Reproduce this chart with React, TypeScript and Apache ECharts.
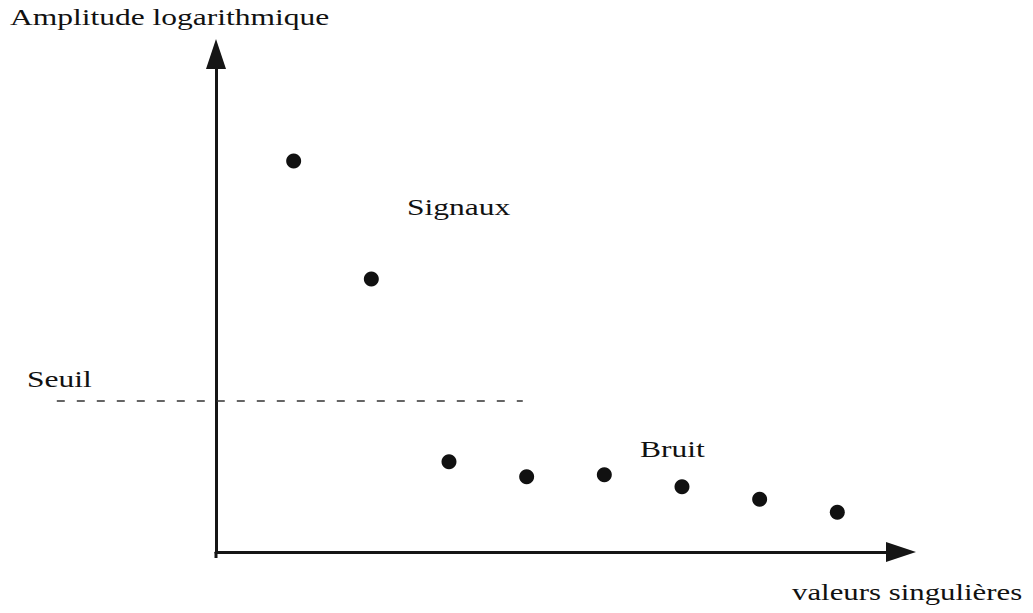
import React, { useEffect, useRef } from "react";
import * as echarts from "echarts";

// singular value rank (x) and log amplitude (y)
const ranks = [1, 2, 3, 4, 5, 6, 7, 8];
const amplitudes = [7.85, 5.48, 1.81, 1.51, 1.55, 1.31, 1.06, 0.8];
const thresholdValue = 3.03;
const thresholdSpan = [-2.05, 3.95];

const yTitle = "Amplitude logarithmique";
const xTitle = "valeurs singulières";
const signalLabel = "Signaux";
const noiseLabel = "Bruit";
const thresholdLabel = "Seuil";

const FONT = "Liberation Serif";

export default function App() {
  const ref = useRef<HTMLDivElement>(null);
  useEffect(() => {
    if (!ref.current) return;
    const chart = echarts.init(ref.current, undefined, { renderer: "svg" });
    const fs = 23;
    const txt = (id: string, x: number, baseline: number, text: string, sx = 1.37) => ({
      type: "text",
      id,
      x,
      y: baseline - 0.34 * fs,
      scaleX: sx,
      style: {
        text,
        fontFamily: FONT,
        fontSize: fs,
        fill: "#111",
        align: "left",
        verticalAlign: "middle",
      },
    });
    const axisCommon = {
      axisLine: {
        show: true,
        lineStyle: { color: "#151515", width: 3 },
        symbol: ["none", "triangle"],
        symbolSize: [20, 30],
      },
      axisTick: { show: false },
      axisLabel: { show: false },
      splitLine: { show: false },
    };
    chart.setOption({
      animation: false,
      backgroundColor: "#ffffff",
      grid: { left: 216, top: 54, width: 685, height: 498 },
      xAxis: { type: "value", min: 0, max: 8.82, ...axisCommon },
      yAxis: { type: "value", min: 0, max: 10, ...axisCommon },
      series: [
        {
          type: "scatter",
          symbol: "circle",
          symbolSize: 15,
          data: ranks.map((r, i) => [r, amplitudes[i]]),
          itemStyle: { color: "#111", opacity: 1 },
          z: 3,
        },
      ],
    });
    const p0 = chart.convertToPixel({ gridIndex: 0 }, [thresholdSpan[0], thresholdValue]) as number[];
    const p1 = chart.convertToPixel({ gridIndex: 0 }, [thresholdSpan[1], thresholdValue]) as number[];
    const o = chart.convertToPixel({ gridIndex: 0 }, [0, 0]) as number[];
    chart.setOption({
      graphic: [
        txt("t1", 10, 25, yTitle),
        txt("t2", 407, 215, signalLabel),
        txt("t3", 27, 387, thresholdLabel),
        txt("t4", 640, 457, noiseLabel),
        txt("t5", 792, 600, xTitle, 1.34),
        {
          type: "line",
          id: "threshold",
          shape: { x1: p0[0], y1: p0[1], x2: p1[0], y2: p1[1] },
          style: { stroke: "#333", lineWidth: 1.5, lineDash: [8, 12] },
          z: 1,
        },
        {
          type: "line",
          id: "yAxisTail",
          shape: { x1: o[0], y1: o[1], x2: o[0], y2: o[1] + 6 },
          style: { stroke: "#151515", lineWidth: 3 },
          z: 1,
        },
      ],
    });
    return () => chart.dispose();
  }, []);
  return (
    <div
      ref={ref}
      style={{ position: "fixed", left: 0, top: 0, width: 1033, height: 613 }}
    />
  );
}
